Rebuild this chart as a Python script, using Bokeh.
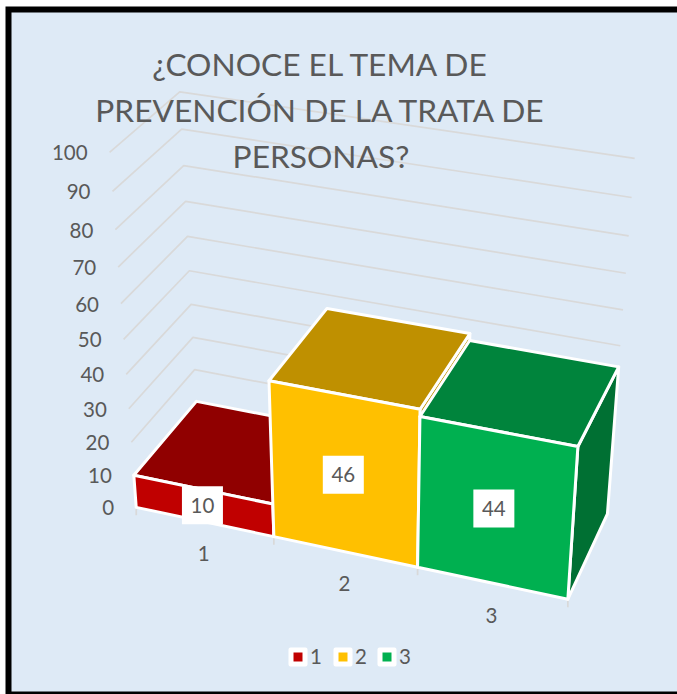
import numpy as np
from bokeh.core.properties import value
from bokeh.embed import file_html
from bokeh.models import ColumnDataSource, Range1d
from bokeh.plotting import figure
from bokeh.resources import INLINE

# ---- data ----
categories = ["1", "2", "3"]
values = [10, 46, 44]
value_ticks = [0, 10, 20, 30, 40, 50, 60, 70, 80, 90, 100]
title_lines = ["¿CONOCE EL TEMA DE", "PREVENCIÓN DE LA TRATA DE", "PERSONAS?"]

# ---- colours ----
front_colors = ["#C00000", "#FFC000", "#00B050"]
top_colors = ["#900000", "#BF9000", "#00843C"]
side_colors = ["#700000", "#BF9000", "#007033"]
BG = "#DEEAF6"
GRID = "#D9D9D9"
TEXT = "#595959"
FONT = "Lato"

# ---- perspective camera: (category, depth, value) -> page pixel ----
calib_world = [
    (0, 0, 0), (1, 0, 0), (2, 0, 0), (3, 0, 0), (3, 1, 0), (0, 1, 0),
    (0, 0, 10), (0, 1, 10), (0, 0, 100), (0, 1, 100), (0, 0, 50), (0, 1, 50),
    (3, 1, 100), (3, 1, 50), (3, 0, 44), (3, 1, 44), (2, 0, 46), (1, 0, 46),
    (1, 1, 46), (2, 1, 46), (2, 0, 44), (2, 1, 44),
]
calib_page = [
    (135, 506), (272, 535), (417, 567), (568, 598), (608, 513), (198, 433),
    (134, 475), (196, 401), (109, 152), (180, 91), (123, 339), (188.5, 269),
    (634, 157), (620, 345), (577, 446), (617, 367), (419, 409), (268, 381),
    (327, 308), (468, 333), (422, 417), (469, 341),
]


def fit_camera(world, page):
    rows, rhs = [], []
    for (c, d, v), (x, y) in zip(world, page):
        w = [c, d, v / 100, 1]
        rows.append(w + [0, 0, 0, 0] + [-x * c, -x * d, -x * v / 100])
        rhs.append(x)
        rows.append([0, 0, 0, 0] + w + [-y * c, -y * d, -y * v / 100])
        rhs.append(y)
    return np.linalg.lstsq(np.array(rows, float), np.array(rhs, float), rcond=None)[0]


CAM = fit_camera(calib_world, calib_page)


def proj(c, d, v):
    w = np.array([c, d, v / 100, 1.0])
    den = CAM[8:11] @ w[:3] + 1
    return float(CAM[:4] @ w / den), float(CAM[4:8] @ w / den)


def poly(points):
    pts = [proj(*q) for q in points]
    return [q[0] for q in pts], [q[1] for q in pts]


p = figure(
    width=677, height=694, output_backend="svg", toolbar_location=None,
    x_range=Range1d(0, 677), y_range=Range1d(694, 0),
    x_axis_type=None, y_axis_type=None, min_border=0,
    background_fill_color="#FFFFFF", border_fill_color="#FFFFFF",
    outline_line_color=None,
)
p.grid.visible = False

# black frame and the chart area inside it
p.quad(left=[5], right=[677], top=[6], bottom=[694], fill_color="#000000", line_color=None)
p.quad(left=[11], right=[677], top=[12], bottom=[691], fill_color=BG, line_color=None)

# gridlines on side and back walls
for t in value_ticks:
    xs, ys = poly([(0, 0, t), (0, 1, t), (3, 1, t)])
    p.line(xs, ys, line_color=GRID, line_width=1.7)

# category tick marks
for c in range(len(categories) + 1):
    x, y = proj(c, 0, 0)
    p.line([x, x], [y, y + 8], line_color=GRID, line_width=1.7)

# bars, left to right
for i, v in enumerate(values):
    xs, ys, cols = [], [], []
    faces = [
        ([(i + 1, 0, 0), (i + 1, 1, 0), (i + 1, 1, v), (i + 1, 0, v)], side_colors[i]),
        ([(i, 0, v), (i + 1, 0, v), (i + 1, 1, v), (i, 1, v)], top_colors[i]),
        ([(i, 0, 0), (i + 1, 0, 0), (i + 1, 0, v), (i, 0, v)], front_colors[i]),
    ]
    for pts, col in faces:
        a, b = poly(pts)
        xs.append(a)
        ys.append(b)
        cols.append(col)
    p.patches(xs="xs", ys="ys", fill_color="c", line_color="#FFFFFF", line_width=3,
              line_join="round", source=ColumnDataSource(dict(xs=xs, ys=ys, c=cols)))

# value axis labels
for t in value_ticks:
    x, y = proj(0, 0, t)
    p.text([x - 22], [y + 0.5], text=[str(t)], text_align="right", text_baseline="middle",
           text_font=value(FONT), text_font_size="20.5px", text_color=TEXT)

# category labels and data labels
for i, (cat, v) in enumerate(zip(categories, values)):
    x, y = proj(i + 0.5, 0, 0)
    p.text([x - 0.5], [y + 32], text=[cat], text_align="center", text_baseline="middle",
           text_font=value(FONT), text_font_size="20.5px", text_color=TEXT)
    x, y = proj(i + 0.5, 0, v / 2)
    p.rect([x - 1], [y - 0.5], width=41, height=38, width_units="screen", height_units="screen",
           fill_color="#FFFFFF", line_color=None)
    p.text([x - 1], [y - 0.5], text=[str(v)], text_align="center", text_baseline="middle",
           text_font=value(FONT), text_font_size="20.5px", text_color=TEXT)

# title
title_y = [63.5, 109, 155]
p.text([320.5] * 3, title_y, text=title_lines, text_align="center", text_baseline="middle",
       text_font=value(FONT), text_font_size="31.7px", text_color=TEXT)

# legend
legend_x = [297.5, 342.5, 386.5]
for lx, cat, col in zip(legend_x, categories, front_colors):
    p.rect([lx], [656.5], width=15, height=15, width_units="screen", height_units="screen",
           fill_color="#FFFFFF", line_color="#FFFFFF", line_width=4, line_join="round")
    p.rect([lx], [656.5], width=9, height=9, width_units="screen", height_units="screen",
           fill_color=col, line_color=None)
    p.text([lx + 18], [655.5], text=[cat], text_align="center", text_baseline="middle",
           text_font=value(FONT), text_font_size="20.5px", text_color=TEXT)

open("out.html", "w").write(file_html(p, INLINE))
